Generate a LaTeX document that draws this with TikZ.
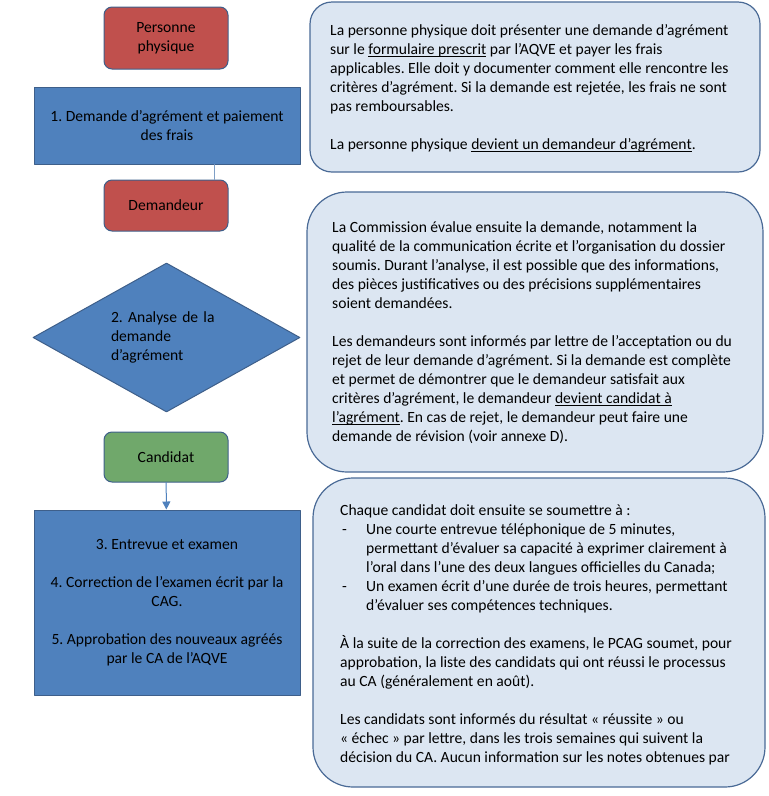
\documentclass[tikz,border=0pt]{standalone}
\usepackage{fontspec}
\setmainfont{Carlito}
\usepackage{tikz}
\usetikzlibrary{arrows.meta,shapes.geometric}
\definecolor{rougeetat}{HTML}{C0504D}
\definecolor{vertetat}{HTML}{70A86B}
\definecolor{bleuetape}{HTML}{4F81BD}
\definecolor{bordetape}{HTML}{3E5F8A}
\definecolor{fondnote}{HTML}{DCE6F2}
\definecolor{bordnote}{HTML}{4A6A96}
\definecolor{trait}{HTML}{7F9FC6}
\newcommand{\corps}{\fontsize{15.6}{19}\selectfont\frenchspacing}
\newcommand{\souligne}[1]{\setbox0\hbox{#1}\rlap{\rule[-2.6pt]{\wd0}{0.7pt}}\box0\relax}
\begin{document}
\begin{tikzpicture}[line cap=round,line join=round,>={Triangle[width=8pt,length=8pt]},x=1pt,y=-1pt,
  etat/.style={draw=bordetape,line width=1pt,rounded corners=8pt,minimum width=124pt,align=center,font=\corps},
  etape/.style={draw=bordetape,fill=bleuetape,line width=1pt,minimum width=266pt,align=center,font=\corps},
  losange/.style={diamond,draw=bordetape,fill=bleuetape,line width=1pt,minimum width=267pt,minimum height=149pt,aspect=1.8,inner sep=0pt,text width=111pt,align=left,font=\corps},
  note/.style={draw=bordnote,fill=fondnote,line width=1.2pt},
  texte/.style={anchor=north west,inner sep=0pt,align=left,font=\corps}]
\useasboundingbox (0,0) rectangle (769,796);
\node[etat,fill=rougeetat,minimum height=62pt] (pp) at (166,38) {Personne\\physique};
\node[etape,minimum height=77pt] (s1) at (167,125.5) {1. Demande d’agrément et paiement\\des frais};
\node[etat,fill=rougeetat,minimum height=51pt] (dem) at (166,205.5) {Demandeur};
\node[losange] (s2) at (166.5,337.5) {2. Analyse de la\\demande\\d’agrément};
\node[etat,fill=vertetat,minimum height=50pt] (cand) at (166,457) {Candidat};
\node[etape,minimum height=185pt] (s3) at (167,602.5) {3. Entrevue et examen\\[19pt]4. Correction de l’examen écrit par la\\CAG.\\[19pt]5. Approbation des nouveaux agréés\\par le CA de l’AQVE};
\draw [line width=1pt,color=trait] (s1.south -| 214,0) -- (dem.north -| 214,0);
\draw [->,line width=1pt,color=bleuetape] (cand) -- (s3);
\draw [note,rounded corners=22pt] (310,2) rectangle (760,172);
\draw [note,rounded corners=40pt] (307,192) rectangle (763,472);
\draw [note,rounded corners=40pt] (313,478) rectangle (765,787);
\node[texte] (txtA) at (330,24) {La personne physique doit présenter une demande d’agrément\\
sur le \souligne{formulaire prescrit} par l’AQVE et payer les frais\\
applicables. Elle doit y documenter comment elle rencontre les\\
critères d’agrément. Si la demande est rejetée, les frais ne sont\\
pas remboursables.\\[19pt]
La personne physique \souligne{devient un demandeur d’agrément}.};
\node[texte] (txtB) at (332,221) {La Commission évalue ensuite la demande, notamment la\\
qualité de la communication écrite et l’organisation du dossier\\
soumis. Durant l’analyse, il est possible que des informations,\\
des pièces justificatives ou des précisions supplémentaires\\
soient demandées.\\[19pt]
Les demandeurs sont informés par lettre de l’acceptation ou du\\
rejet de leur demande d’agrément. Si la demande est complète\\
et permet de démontrer que le demandeur satisfait aux\\
critères d’agrément, le demandeur \souligne{devient candidat à}\\
\souligne{l’agrément}. En cas de rejet, le demandeur peut faire une\\
demande de révision (voir annexe D).};
\node[texte] (txtC) at (340,504) {Chaque candidat doit ensuite se soumettre à :\\
\makebox[26pt][l]{\hspace{2pt}-}Une courte entrevue téléphonique de 5 minutes,\\
\hspace*{26pt}permettant d’évaluer sa capacité à exprimer clairement à\\
\hspace*{26pt}l’oral dans l’une des deux langues officielles du Canada;\\
\makebox[26pt][l]{\hspace{2pt}-}Un examen écrit d’une durée de trois heures, permettant\\
\hspace*{26pt}d’évaluer ses compétences techniques.\\[19pt]
À la suite de la correction des examens, le PCAG soumet, pour\\
approbation, la liste des candidats qui ont réussi le processus\\
au CA (généralement en août).\\[19pt]
Les candidats sont informés du résultat «~réussite~» ou\\
«~échec~» par lettre, dans les trois semaines qui suivent la\\
décision du CA. Aucun information sur les notes obtenues par};
\end{tikzpicture}
\end{document}
